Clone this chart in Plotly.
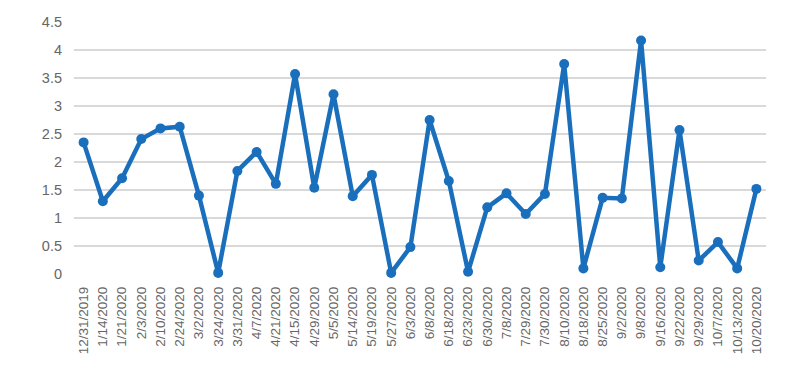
import plotly.graph_objects as go

dates = ["12/31/2019", "1/14/2020", "1/21/2020", "2/3/2020", "2/10/2020", "2/24/2020",
         "3/2/2020", "3/24/2020", "3/31/2020", "4/7/2020", "4/21/2020", "4/15/2020",
         "4/29/2020", "5/5/2020", "5/14/2020", "5/19/2020", "5/27/2020", "6/3/2020",
         "6/8/2020", "6/18/2020", "6/23/2020", "6/30/2020", "7/8/2020", "7/29/2020",
         "7/30/2020", "8/10/2020", "8/18/2020", "8/25/2020", "9/2/2020", "9/8/2020",
         "9/16/2020", "9/22/2020", "9/29/2020", "10/7/2020", "10/13/2020", "10/20/2020"]
values = [2.35, 1.30, 1.71, 2.41, 2.60, 2.63,
          1.40, 0.02, 1.84, 2.18, 1.61, 3.57,
          1.54, 3.21, 1.39, 1.77, 0.02, 0.48,
          2.75, 1.66, 0.04, 1.19, 1.44, 1.07,
          1.43, 3.75, 0.10, 1.36, 1.35, 4.17,
          0.12, 2.57, 0.24, 0.57, 0.10, 1.52]
y_ticks = [0, 0.5, 1, 1.5, 2, 2.5, 3, 3.5, 4, 4.5]
y_labels = ["0", "0.5", "1", "1.5", "2", "2.5", "3", "3.5", "4", "4.5"]

blue = "#1a6fbd"
fig = go.Figure(go.Scatter(
    x=dates, y=values, mode="lines+markers",
    line=dict(color=blue, width=4.5),
    marker=dict(color=blue, size=10),
    cliponaxis=False,
))
# page body has an 8px default margin, so offsets are compensated here
fig.update_layout(
    width=790, height=368,
    margin=dict(l=66, r=32, t=14, b=102),
    paper_bgcolor="white", plot_bgcolor="white",
    showlegend=False,
    font=dict(family="Liberation Sans, Arial, sans-serif", size=12, color="#666666"),
)
fig.update_xaxes(
    type="category", tickangle=-90, showgrid=False, zeroline=False,
    range=[-0.5, len(dates) - 0.5],
    showline=False, ticks="", tickfont=dict(size=13.5, color="#666666"),
    ticklabelstandoff=9, automargin=False,
)
fig.update_yaxes(
    range=[0, 4.5], tickvals=y_ticks, ticktext=y_labels,
    showgrid=True, gridcolor="#d9d9d9", gridwidth=1.5,
    zeroline=False, showline=False, ticks="",
    tickfont=dict(size=14.5, color="#666666"), ticklabelstandoff=11,
    automargin=False,
)
fig.write_html("out.html")
